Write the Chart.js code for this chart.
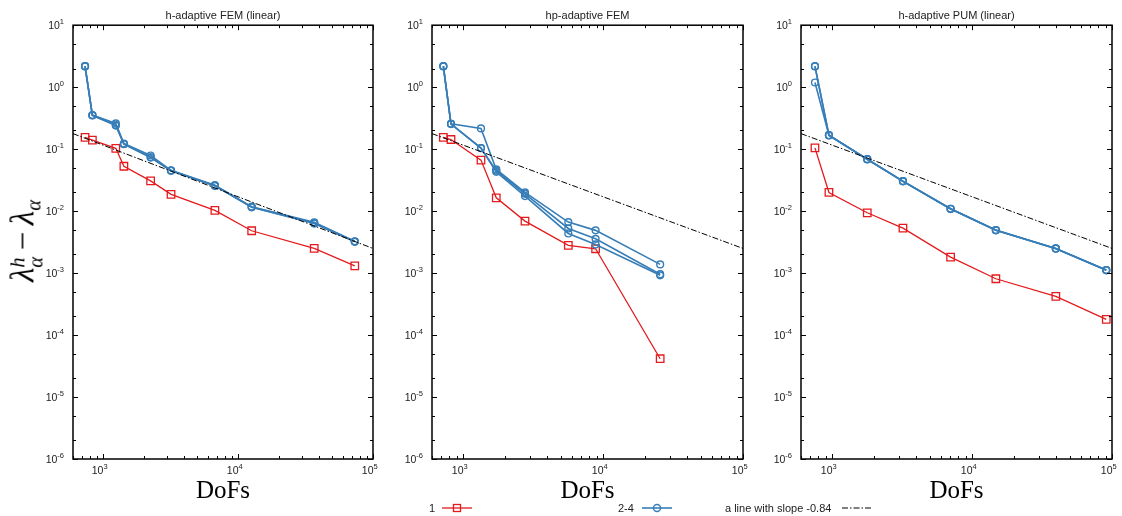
<!DOCTYPE html>
<html>
<head>
<meta charset="utf-8">
<script src="https://cdn.jsdelivr.net/npm/chart.js@4.4.1/dist/chart.umd.min.js"></script>
<style>
  html, body { margin: 0; padding: 0; background: #fff; }
  #wrap { position: relative; width: 1122px; height: 516px; overflow: hidden; }
  canvas { position: absolute; top: 0; }
  #ylab {
    position: absolute; left: 25px; top: 241px;
    transform: translate(-50%, -50%) rotate(-90deg);
    font: italic 33px "Liberation Serif", "DejaVu Serif", serif;
    white-space: nowrap; color: #000;
  }
  #ylab .stk { display: inline-block; vertical-align: -0.42em; line-height: 0.85; font-size: 0.62em; }
  #ylab .stk span { display: block; }
  #ylab .op { font-style: normal; padding: 0 0.2em; }
  #ylab sub { font-size: 0.62em; vertical-align: -0.35em; }
  .lg { position: absolute; top: 501px; font: 11px "Liberation Sans", Arial, sans-serif; color: #222; line-height: 14px; }
  .lg svg { position: absolute; top: 1px; }
</style>
</head>
<body>
<div id="wrap">
  <canvas id="c1" width="385" height="516" style="left:0px"></canvas>
  <canvas id="c2" width="370" height="516" style="left:385px"></canvas>
  <canvas id="c3" width="367" height="516" style="left:755px"></canvas>
  <div id="ylab">λ<span class="stk"><span>h</span><span>α</span></span><span class="op">−</span>λ<sub>α</sub></div>
  <div class="lg" style="left:429px">1</div>
  <div class="lg" style="left:442px"><svg width="30" height="12"><line x1="0" y1="6" x2="30" y2="6" stroke="#e41a1c" stroke-width="1.3"/><rect x="11.5" y="2.5" width="7" height="7" fill="none" stroke="#e41a1c" stroke-width="1.3"/></svg></div>
  <div class="lg" style="left:618px">2-4</div>
  <div class="lg" style="left:642px"><svg width="30" height="12"><line x1="0" y1="6" x2="30" y2="6" stroke="#377eb8" stroke-width="1.6"/><circle cx="15" cy="6" r="3.5" fill="none" stroke="#377eb8" stroke-width="1.4"/></svg></div>
  <div class="lg" style="left:725px">a line with slope -0.84</div>
  <div class="lg" style="left:842px"><svg width="30" height="12"><line x1="0" y1="6" x2="30" y2="6" stroke="#000" stroke-width="1" stroke-dasharray="6 2 1.5 2"/></svg></div>
</div>
<script>
const xMin = 600, xMax = 100000, yMin = 1e-6, yMax = 10;
const xTickExps = [3, 4, 5];
const yTickExps = [1, 0, -1, -2, -3, -4, -5, -6];
const titles = ['h-adaptive FEM (linear)', 'hp-adaptive FEM', 'h-adaptive PUM (linear)'];

// h-adaptive FEM (linear)
const femDofs = [737, 835, 1245, 1429, 2254, 3193, 6745, 12630, 36700, 73300];
const femMode1 = [0.155, 0.14, 0.103, 0.053, 0.0308, 0.0186, 0.0103, 0.00482, 0.0025, 0.00131];
const femMode2 = [2.18, 0.355, 0.26, 0.123, 0.079, 0.0455, 0.0262, 0.0118, 0.0066, 0.00326];
const femMode3 = [2.18, 0.352, 0.245, 0.121, 0.074, 0.045, 0.0258, 0.0116, 0.0064, 0.00322];
const femMode4 = [2.16, 0.35, 0.24, 0.12, 0.073, 0.0448, 0.0255, 0.0115, 0.0063, 0.0032];

// hp-adaptive FEM
const hpDofs = [723, 820, 1343, 1727, 2770, 5650, 8850, 25600];
const hpMode1 = [0.155, 0.143, 0.0665, 0.0164, 0.0069, 0.0028, 0.00247, 0.0000415];
const hpMode2 = [2.18, 0.256, 0.216, 0.047, 0.02, 0.00665, 0.00489, 0.00138];
const hpMode3 = [2.18, 0.256, 0.104, 0.045, 0.019, 0.00525, 0.00357, 0.00096];
const hpMode4 = [2.16, 0.254, 0.104, 0.043, 0.0175, 0.00436, 0.0029, 0.00092];

// h-adaptive PUM (linear)
const pumDofs = [755, 950, 1785, 3210, 7030, 14800, 39700, 91000];
const pumMode1 = [0.105, 0.02, 0.0094, 0.00532, 0.00181, 0.00081, 0.00042, 0.000179];
const pumMode2 = [2.18, 0.168, 0.069, 0.0305, 0.0109, 0.00494, 0.0025, 0.00112];
const pumMode3 = [2.16, 0.166, 0.068, 0.0302, 0.0108, 0.0049, 0.00248, 0.00111];
const pumMode4 = [1.19, 0.168, 0.069, 0.0304, 0.0109, 0.00492, 0.0025, 0.00112];

// reference line, slope -0.84
const slopeDofs = [600, 100000];
const slopeVals = [0.178, 0.0025];

const RED = '#e41a1c', BLUE = '#377eb8';
const tickFont = '"Liberation Sans", Arial, sans-serif';

const pts = (xs, ys) => xs.map((x, i) => ({ x, y: ys[i] }));

function drawPow(ctx, e, x, y, mode) {
  const exp = e < 0 ? '-' + (-e) : String(e);
  ctx.font = '10.5px ' + tickFont;
  const wb = ctx.measureText('10').width;
  ctx.font = '7.5px ' + tickFont;
  const we = ctx.measureText(exp).width;
  const x0 = mode === 'x' ? x - wb + 0.5 : x - wb - we;
  ctx.textBaseline = 'middle';
  ctx.textAlign = 'left';
  ctx.font = '10.5px ' + tickFont;
  ctx.fillText('10', x0, y);
  ctx.font = '7.5px ' + tickFont;
  ctx.fillText(exp, x0 + wb, y - 4);
}

const frameTicks = {
  id: 'frameTicks',
  afterDraw(chart) {
    const { ctx, chartArea: a, scales: { x, y } } = chart;
    ctx.save();
    ctx.strokeStyle = '#000';
    ctx.lineWidth = 1;
    ctx.beginPath();
    for (let e = -6; e <= 1; e++) {
      for (const m of [1, 2, 5]) {
        const v = m * Math.pow(10, e);
        if (v < yMin * 0.999 || v > yMax * 1.001) continue;
        const py = Math.round(y.getPixelForValue(v)) + 0.5;
        const len = m === 1 ? 5 : 3;
        ctx.moveTo(a.left, py); ctx.lineTo(a.left + len, py);
        ctx.moveTo(a.right, py); ctx.lineTo(a.right - len, py);
      }
    }
    for (let e = 2; e <= 5; e++) {
      for (let m = 1; m <= 9; m++) {
        const v = m * Math.pow(10, e);
        if (v < xMin || v > xMax * 1.001) continue;
        const px = Math.round(x.getPixelForValue(v)) + 0.5;
        const len = m === 1 ? 5 : 3;
        ctx.moveTo(px, a.bottom); ctx.lineTo(px, a.bottom - len);
        ctx.moveTo(px, a.top); ctx.lineTo(px, a.top + len);
      }
    }
    ctx.stroke();
    ctx.lineWidth = 1.5;
    ctx.strokeRect(a.left, a.top, a.right - a.left, a.bottom - a.top);

    ctx.fillStyle = '#222';
    yTickExps.forEach(e => drawPow(ctx, e, a.left - 9, y.getPixelForValue(Math.pow(10, e)) + 1, 'y'));
    xTickExps.forEach(e => drawPow(ctx, e, x.getPixelForValue(Math.pow(10, e)), a.bottom + 12, 'x'));
    ctx.restore();
  }
};

function makeChart(id, title, dofs, modes, plotLeft, padRight) {
  const datasets = [
    {
      data: pts(slopeDofs, slopeVals), borderColor: '#000', borderWidth: 1,
      borderDash: [6, 2, 1.5, 2], pointRadius: 0, showLine: true
    }
  ];
  modes.slice(1).forEach(m => datasets.push({
    data: pts(dofs, m), borderColor: BLUE, borderWidth: 1.6, showLine: true,
    pointStyle: 'circle', pointRadius: 3.4, pointBorderWidth: 1.4,
    pointBackgroundColor: 'rgba(0,0,0,0)', pointBorderColor: BLUE
  }));
  datasets.push({
    data: pts(dofs, modes[0]), borderColor: RED, borderWidth: 1.3, showLine: true,
    pointStyle: 'rect', pointRadius: 5.3, pointBorderWidth: 1.3,
    pointBackgroundColor: 'rgba(0,0,0,0)', pointBorderColor: RED
  });

  return new Chart(document.getElementById(id), {
    type: 'scatter',
    data: { datasets },
    options: {
      responsive: false,
      animation: false,
      layout: { padding: { left: 0, right: padRight, top: 0, bottom: 10 } },
      plugins: {
        legend: { display: false },
        tooltip: { enabled: false },
        title: {
          display: true, text: title, fullSize: false, color: '#222',
          font: { family: tickFont, size: 11, weight: 'normal' },
          padding: { top: 9, bottom: 3 }
        }
      },
      elements: { line: { tension: 0 } },
      scales: {
        x: {
          type: 'logarithmic', min: xMin, max: xMax,
          grid: { display: false }, border: { display: false },
          ticks: { display: false },
          title: {
            display: true, text: 'DoFs', color: '#000', padding: 0,
            font: { family: '"Liberation Serif", "Times New Roman", serif', size: 25 }
          },
          afterFit: s => { s.height = 47; }
        },
        y: {
          type: 'logarithmic', min: yMin, max: yMax,
          grid: { display: false }, border: { display: false },
          ticks: { display: false },
          afterFit: s => { s.width = plotLeft; }
        }
      }
    },
    plugins: [frameTicks]
  });
}

makeChart('c1', titles[0], femDofs, [femMode1, femMode2, femMode3, femMode4], 73, 12);
makeChart('c2', titles[1], hpDofs, [hpMode1, hpMode2, hpMode3, hpMode4], 47, 12);
makeChart('c3', titles[2], pumDofs, [pumMode1, pumMode2, pumMode3, pumMode4], 46, 10);
</script>
</body>
</html>
